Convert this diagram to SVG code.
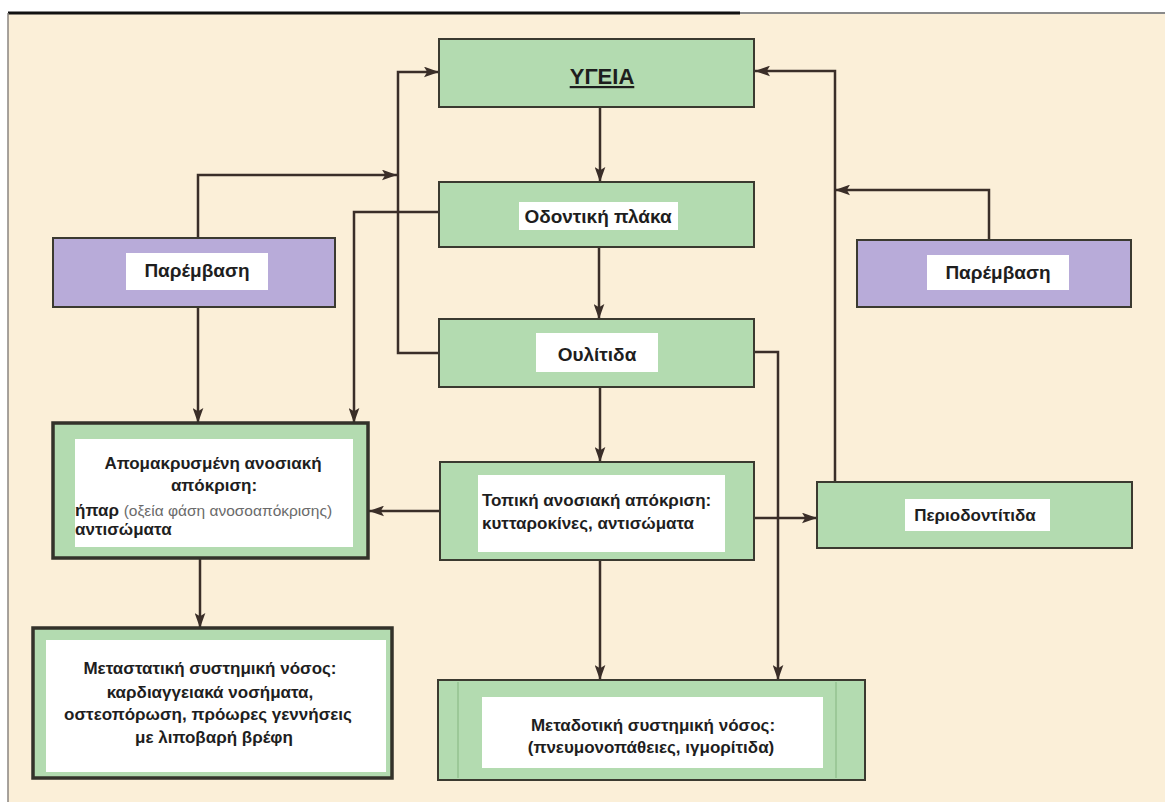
<svg xmlns="http://www.w3.org/2000/svg" width="1165" height="802" viewBox="0 0 1165 802">
<defs>
<style>
.bg{fill:#fbefd8}
.g{fill:#b3dbb0;stroke:#3b3a30;stroke-width:2}
.gt{fill:#b3dbb0;stroke:#33322a;stroke-width:3.5}
.p{fill:#b8abd9;stroke:#3b3a30;stroke-width:2}
.w{fill:#ffffff}
.t{font-family:"Liberation Sans",Arial,sans-serif;font-weight:bold;font-size:17px;fill:#1e1e1e}
.s{font-size:19px}
.c{text-anchor:middle}
.n{font-weight:normal;font-size:15.5px;fill:#6a6a6a}
.l{fill:none;stroke:#3a2e28;stroke-width:2.5}
</style>
<marker id="ah" viewBox="0 0 14 10" refX="14" refY="5" markerWidth="15" markerHeight="11" markerUnits="userSpaceOnUse" orient="auto">
<path d="M0,0 L14,5 L0,10 L3,5 Z" fill="#3a2e28"/>
</marker>
</defs>
<rect x="0" y="0" width="1165" height="802" fill="#ffffff"/>
<rect class="bg" x="8" y="13" width="1157" height="789"/>
<line x1="8" y1="13" x2="740" y2="13" stroke="#111" stroke-width="3"/>
<line x1="740" y1="13" x2="1165" y2="13" stroke="#8a8a8a" stroke-width="2"/>
<line x1="8" y1="13" x2="8" y2="802" stroke="#8a8580" stroke-width="1.5"/>

<g id="connectors">
<path class="l" d="M600,107 V182" marker-end="url(#ah)"/>
<path class="l" d="M599,247 V319" marker-end="url(#ah)"/>
<path class="l" d="M600,387 V462" marker-end="url(#ah)"/>
<path class="l" d="M600,560 V680" marker-end="url(#ah)"/>
<path class="l" d="M754,352 H778 V680" marker-end="url(#ah)"/>
<path class="l" d="M439,353 H398 V72 H439" marker-end="url(#ah)"/>
<path class="l" d="M198,238 V175 H397" marker-end="url(#ah)"/>
<path class="l" d="M198,307 V423" marker-end="url(#ah)"/>
<path class="l" d="M439,212 H354 V423" marker-end="url(#ah)"/>
<path class="l" d="M440,511 H369" marker-end="url(#ah)"/>
<path class="l" d="M754,518 H817" marker-end="url(#ah)"/>
<path class="l" d="M835,482 V71 H755" marker-end="url(#ah)"/>
<path class="l" d="M989,240 V190 H835" marker-end="url(#ah)"/>
<path class="l" d="M200,558 V628" marker-end="url(#ah)"/>
</g>

<g id="ygeia">
<rect class="g" x="439" y="39" width="315" height="68"/>
<text class="t c" x="602" y="84" style="font-size:22px" text-decoration="underline">ΥΓΕΙΑ</text>
</g>

<g id="odontiki-plaka">
<rect class="g" x="439" y="182" width="315" height="65"/>
<rect class="w" x="519" y="202" width="159" height="28"/>
<text class="t s c" x="598" y="223">Οδοντική πλάκα</text>
</g>

<g id="oulitida">
<rect class="g" x="439" y="319" width="315" height="68"/>
<rect class="w" x="536" y="333" width="122" height="39"/>
<text class="t s c" x="597" y="361">Ουλίτιδα</text>
</g>

<g id="topiki">
<rect class="g" x="440" y="462" width="314" height="98"/>
<rect class="w" x="478" y="475" width="247" height="77"/>
<text class="t" x="482" y="506">Τοπική ανοσιακή απόκριση:</text>
<text class="t" x="482" y="529">κυτταροκίνες, αντισώματα</text>
</g>

<g id="paremvasi-left">
<rect class="p" x="53" y="238" width="282" height="69"/>
<rect class="w" x="126" y="253" width="142" height="37"/>
<text class="t s c" x="197" y="277">Παρέμβαση</text>
</g>

<g id="paremvasi-right">
<rect class="p" x="857" y="240" width="274" height="67"/>
<rect class="w" x="927" y="255" width="142" height="35"/>
<text class="t s c" x="998" y="279">Παρέμβαση</text>
</g>

<g id="periodontitida">
<rect class="g" x="817" y="482" width="315" height="66"/>
<rect class="w" x="905" y="499" width="145" height="32"/>
<text class="t c" x="975" y="521">Περιοδοντίτιδα</text>
</g>

<g id="apomakrysmeni">
<rect class="gt" x="53" y="423" width="315" height="135"/>
<rect class="w" x="75" y="439" width="278" height="108"/>
<text class="t c" x="213" y="469">Απομακρυσμένη ανοσιακή</text>
<text class="t c" x="214" y="491">απόκριση:</text>
<text class="t" x="75" y="516">ήπαρ <tspan class="n">(οξεία φάση ανοσοαπόκρισης)</tspan></text>
<text class="t" x="75" y="535">αντισώματα</text>
</g>

<g id="metastatiki">
<rect class="gt" x="33" y="628" width="359" height="150"/>
<rect class="w" x="46" y="640" width="340" height="132"/>
<text class="t c" x="210" y="674">Μεταστατική συστημική νόσος:</text>
<text class="t c" x="210" y="698">καρδιαγγειακά νοσήματα,</text>
<text class="t c" x="208" y="720">οστεοπόρωση, πρόωρες γεννήσεις</text>
<text class="t c" x="214" y="743">με λιποβαρή βρέφη</text>
</g>

<g id="metadotiki">
<rect class="g" x="438" y="680" width="427" height="100" stroke-width="2.5"/>
<line x1="458" y1="682" x2="458" y2="778" stroke="#9cc898" stroke-width="2"/>
<line x1="836" y1="682" x2="836" y2="778" stroke="#9cc898" stroke-width="2"/>
<rect class="w" x="482" y="697" width="341" height="71"/>
<text class="t c" x="653" y="731">Μεταδοτική συστημική νόσος:</text>
<text class="t c" x="651" y="753">(πνευμονοπάθειες, ιγμορίτιδα)</text>
</g>
</svg>
